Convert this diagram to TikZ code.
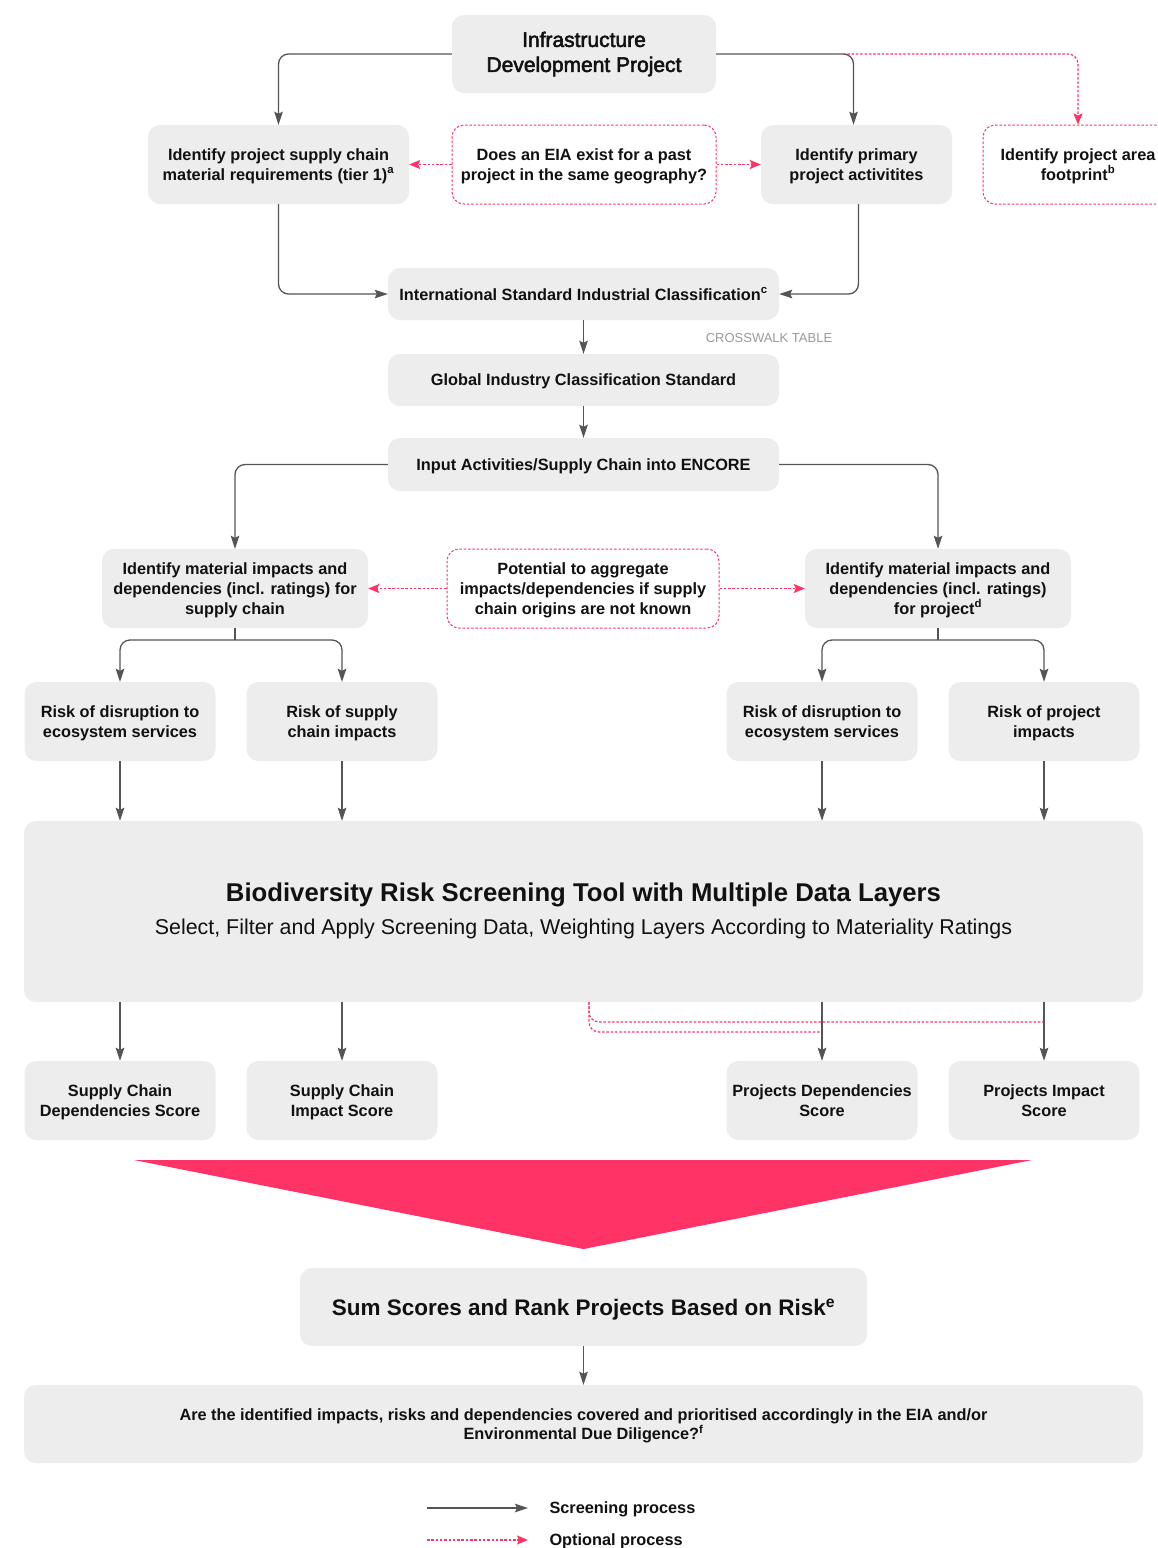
\documentclass[tikz,border=0pt]{standalone}
\usepackage{fontspec}
\setmainfont{Liberation Sans}
\newfontfamily\medfont{Liberation Sans}[FakeBold=2.5]
\usetikzlibrary{arrows.meta}
\definecolor{boxgrey}{HTML}{EDEDED}
\definecolor{linegrey}{HTML}{555555}
\definecolor{optpink}{HTML}{FF3366}
\definecolor{inkblack}{HTML}{111111}
\definecolor{labelgrey}{HTML}{9A9A9A}
\tikzset{
  box/.style={fill=boxgrey, rounded corners=12pt, align=center, text=inkblack, inner sep=0pt,
    font=\fontsize{16.3}{19.6}\selectfont\bfseries, text depth=-7pt},
  optbox/.style={box, fill=white, draw=optpink, line width=1pt, dash pattern=on 2.5pt off 1.8pt},
  flow/.style={draw=linegrey, line width=1.3pt, rounded corners=10pt,
    -{Stealth[length=13pt,width=8.5pt,inset=2pt]}},
  optline/.style={draw=optpink, line width=1.2pt, rounded corners=10pt, dash pattern=on 2.5pt off 1.8pt},
  optflow/.style={optline, -{Stealth[length=11pt,width=9pt,inset=2pt]}},
  smallbox/.style={box, minimum width=191pt, minimum height=79pt}
}
\begin{document}
\begin{tikzpicture}[x=1pt,y=-1pt]
\clip (0,0) rectangle (1157,1548);
\fill[white] (0,0) rectangle (1157,1548);
% top of the process
\node[box, minimum width=264pt, minimum height=78pt, font=\fontsize{21}{25}\selectfont\medfont, text depth={}] (infra) at (584,54) {Infrastructure\\Development Project};
\node[box, minimum width=261pt, minimum height=79pt] (supply) at (278.5,164.5) {Identify project supply chain\\material requirements (tier 1)\textsuperscript{a}};
\node[optbox, minimum width=264pt, minimum height=79pt] (eia) at (584,164.5) {Does an EIA exist for a past\\project in the same geography?};
\node[smallbox] (primary) at (856.5,164.5) {Identify primary\\project activitites};
\node[optbox, minimum width=190pt, minimum height=79pt] (footprint) at (1078,164.5) {Identify project area\\footprint\textsuperscript{b}};
\coordinate (fpturn) at (843,54);
\draw[flow] (infra.west) -| (supply.north);
\draw[flow] (infra.east) -| ([xshift=-3pt]primary.north);
\draw[optflow] (fpturn) -| (footprint.north);
\draw[optflow] (eia.west) -- (supply.east);
\draw[optflow] (eia.east) -- (primary.west);

% classification chain
\node[box, minimum width=391pt, minimum height=52pt] (isic) at (583.5,294) {International Standard Industrial Classification\textsuperscript{c}};
\node[box, minimum width=391pt, minimum height=52pt] (gics) at (583.5,380) {Global Industry Classification Standard};
\node[box, minimum width=391pt, minimum height=53pt] (encore) at (583.5,464.5) {Input Activities/Supply Chain into ENCORE};
\node[font=\fontsize{13}{15}\selectfont, text=labelgrey] (crosswalk) at (769,338) {CROSSWALK TABLE};
\draw[flow] (supply.south) |- (isic.west);
\draw[flow] ([xshift=2pt]primary.south) |- (isic.east);
\draw[flow] (isic) -- (gics);
\draw[flow] (gics) -- (encore);

% materiality
\node[box, minimum width=266pt, minimum height=79pt] (matsc) at (235,588.5) {Identify material impacts and\\dependencies (incl. ratings) for\\supply chain};
\node[optbox, minimum width=272pt, minimum height=79pt] (potential) at (583,588.5) {Potential to aggregate\\impacts/dependencies if supply\\chain origins are not known};
\node[box, minimum width=266pt, minimum height=79pt] (matpr) at (938,588.5) {Identify material impacts and\\dependencies (incl. ratings)\\for project\textsuperscript{d}};
\draw[flow] (encore.west) -| (matsc.north);
\draw[flow] (encore.east) -| (matpr.north);
\draw[optflow] (potential.west) -- (matsc.east);
\draw[optflow] (potential.east) -- (matpr.west);

% risks
\node[smallbox] (riskA) at (120,721.5) {Risk of disruption to\\ecosystem services};
\node[smallbox] (riskB) at (342,721.5) {Risk of supply\\chain impacts};
\node[smallbox] (riskC) at (822,721.5) {Risk of disruption to\\ecosystem services};
\node[smallbox] (riskD) at (1044,721.5) {Risk of project\\impacts};
\coordinate (scsplit) at (235,640);
\coordinate (prsplit) at (938,640);
\draw[draw=linegrey, line width=1.3pt] (matsc.south) -- (scsplit);
\draw[draw=linegrey, line width=1.3pt] (matpr.south) -- (prsplit);
\draw[flow] (scsplit) -| (riskA.north);
\draw[flow] (scsplit) -| (riskB.north);
\draw[flow] (prsplit) -| (riskC.north);
\draw[flow] (prsplit) -| (riskD.north);

% screening tool
\node[box, minimum width=1119pt, minimum height=181pt] (tool) at (583.5,911.5) {};
\node[font=\fontsize{25.7}{30}\selectfont\bfseries, text=inkblack] (tooltitle) at (583.5,895) {Biodiversity Risk Screening Tool with Multiple Data Layers};
\node[font=\fontsize{21.4}{25}\selectfont, text=inkblack] (toolsub) at (583.5,929) {Select, Filter and Apply Screening Data, Weighting Layers According to Materiality Ratings};
\foreach \r in {riskA,riskB,riskC,riskD}
  \draw[flow] (\r.south) -- (\r.south |- tool.north);

% scores
\node[smallbox] (scoreA) at (120,1100.5) {Supply Chain\\Dependencies Score};
\node[smallbox] (scoreB) at (342,1100.5) {Supply Chain\\Impact Score};
\node[smallbox] (scoreC) at (822,1100.5) {Projects Dependencies\\Score};
\node[smallbox] (scoreD) at (1044,1100.5) {Projects Impact\\Score};
\coordinate (optsplit) at (589,1002);
\coordinate (optA) at (1044,1022);
\coordinate (optB) at (822,1032);
\draw[optline] (optsplit) |- (optA);
\draw[optline] (optsplit) |- (optB);
\foreach \s in {scoreA,scoreB,scoreC,scoreD}
  \draw[flow] (\s.north |- tool.south) -- (\s.north);

% funnel and result
\fill[optpink] (134,1160) -- (1032,1160) -- (583.5,1249) -- cycle;
\node[box, minimum width=567pt, minimum height=78pt, font=\fontsize{22.5}{26}\selectfont\bfseries, text depth=0pt] (sum) at (583.5,1307) {Sum Scores and Rank Projects Based on Risk\textsuperscript{e}};
\node[box, minimum width=1119pt, minimum height=78pt] (eiacheck) at (583.5,1424) {Are the identified impacts, risks and dependencies covered and prioritised accordingly in the EIA and/or\\Environmental Due Diligence?\textsuperscript{f}};
\draw[flow] (sum) -- (eiacheck);

% legend
\coordinate (legA) at (427,1508);
\coordinate (legB) at (528,1508);
\coordinate (legC) at (427,1540);
\coordinate (legD) at (528,1540);
\draw[flow] (legA) -- (legB);
\draw[optflow] (legC) -- (legD);
\node[anchor=west, font=\fontsize{16.3}{18}\selectfont\bfseries, text=inkblack] (legscreen) at (546,1509) {Screening process};
\node[anchor=west, font=\fontsize{16.3}{18}\selectfont\bfseries, text=inkblack] (legopt) at (546,1541) {Optional process};
\end{tikzpicture}
\end{document}
